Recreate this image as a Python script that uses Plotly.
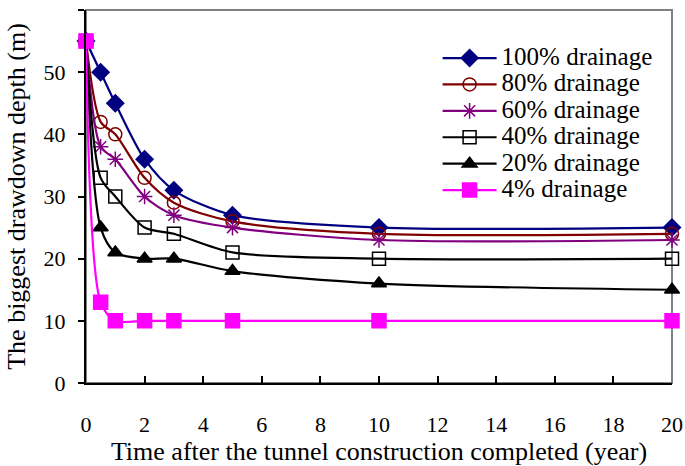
import plotly.graph_objects as go

years = [0, 0.5, 1, 2, 3, 5, 10, 20]
d100 = [55, 50, 45, 36, 31, 27, 25, 25]
d80 = [55, 42, 40, 33, 29, 26, 24, 24]
d60 = [55, 38, 36, 30, 27, 25, 23, 23]
d40 = [55, 33, 30, 25, 24, 21, 20, 20]
d20 = [55, 25, 21, 20, 20, 18, 16, 15]
d4 = [55, 13, 10, 10, 10, 10, 10, 10]

series = [
    ("100% drainage", d100, "#000080", "diamond", 13),
    ("80% drainage", d80, "#800000", "circle-open", 13),
    ("60% drainage", d60, "#800080", "asterisk-open", 13),
    ("40% drainage", d40, "#000000", "square-open", 13),
    ("20% drainage", d20, "#000000", "triangle-up", 13),
    ("4% drainage", d4, "#FF00FF", "square", 14),
]

font = "Liberation Serif, Times New Roman, serif"

fig = go.Figure()
for name, vals, color, sym, size in series:
    fig.add_trace(go.Scatter(
        x=years, y=vals, mode="lines+markers",
        name=("<span style='font-family:Liberation Serif,serif;font-size:25px'>"
              + name + "</span>"),
        line=dict(color=color, width=2.2, shape="spline", smoothing=0.8),
        marker=dict(symbol=sym, size=size, color=color,
                    line=dict(color=color, width=1.5)),
        cliponaxis=False,
    ))

fig.update_layout(
    width=685, height=466,
    margin=dict(l=86, r=13, t=10, b=83),
    paper_bgcolor="white", plot_bgcolor="white",
    font=dict(family=font, size=22, color="black"),
    showlegend=True,
    legend=dict(x=0.60, y=0.92, xanchor="left", yanchor="top",
                bgcolor="rgba(0,0,0,0)", font=dict(family=font, size=18),
                tracegroupgap=0, itemwidth=54),
    xaxis=dict(range=[0, 20], dtick=2, tick0=0, showgrid=False, zeroline=False,
               automargin=False,
               showline=True, linecolor="black", linewidth=2,
               ticks="inside", ticklen=7, tickwidth=1.5, tickcolor="black",
               ticklabelstandoff=21,
               tickfont=dict(family=font, size=22),
               title=dict(text="Time after the tunnel construction completed (year)",
                          standoff=5)),
    yaxis=dict(range=[0, 60], dtick=10, tick0=0, showgrid=False, zeroline=False,
               automargin=False,
               showline=True, linecolor="black", linewidth=2,
               ticks="outside", ticklen=6, tickwidth=1.5, tickcolor="black",
               ticklabelstandoff=8,
               tickfont=dict(family=font, size=22),
               title=dict(text="The biggest drawdown depth (m)", standoff=10)),
    shapes=[dict(type="rect", xref="paper", yref="paper", x0=0, y0=0, x1=1, y1=1,
                 line=dict(color="#808080", width=2), layer="below")],
)

fig.write_html("out.html", config={"displayModeBar": False},
               post_script="document.body.style.margin='0';")
